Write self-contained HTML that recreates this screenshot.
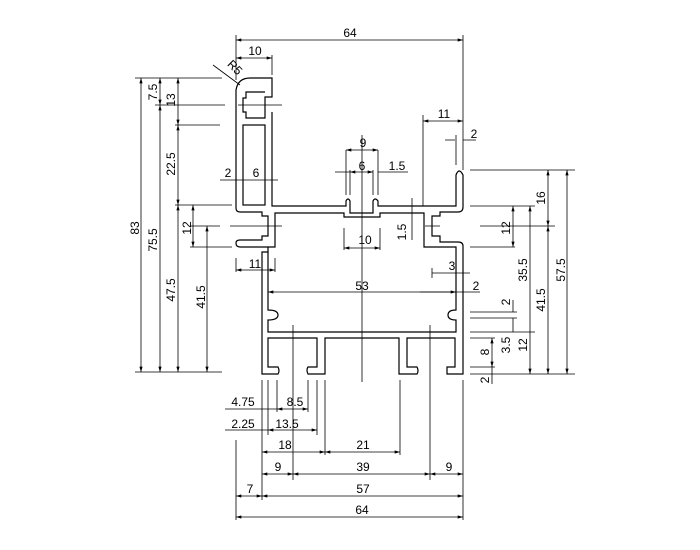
<!DOCTYPE html>
<html><head><meta charset="utf-8"><style>
html,body{margin:0;padding:0;background:#fff;width:700px;height:550px;overflow:hidden}
svg{display:block}
text{font-family:"Liberation Sans",Arial,sans-serif;font-size:12px;fill:#000}
</style></head><body>
<svg width="700" height="550" viewBox="0 0 700 550" xmlns="http://www.w3.org/2000/svg">
<defs>
<marker id="a" viewBox="0 0 10 6" refX="10" refY="3" markerWidth="8" markerHeight="4" orient="auto-start-reverse"><path d="M0,0 L10,3 L0,6z" fill="#000"/></marker>
</defs>
<g fill="none" stroke="#000" stroke-width="1.2">
<path d="M272,112 L272,206 L346,206 L346,201 Q348,197 350,201 L350,213 L373,213 L373,201 Q375,197 378,201 L378,206 L456,206 L456,175 Q459,167 463,175 L463,207 Q463,212 458,212 L440,212 L440,216 L432,216 L432,236 L440,236 L440,242 L458,242 Q463,242 463,246 L463,374 L447,374 L447,367 L455,367 L455,338 L407,338 L407,367 L417,367 Q419,371 417,374 L399,374 L399,338 L325,338 L325,374 L308,374 Q306,370 308,367 L317,367 L317,338 L268,338 L268,367 L278,367 Q280,371 278,374 L262,374 L262,252 L268,252 L268,247 L240,247 Q236,247 236,243 Q236,240 240,240 L262,240 L262,236 L268,236 L268,216 L262,216 L262,212 L240,212 Q236,212 236,208 L236,90 Q238,78 250,78 L272,78 L272,97 L265,97 L265,118 L246,118 L246,112 L243,112 L243,98 L246,98 L246,92 L265,92"/>
<rect x="243" y="125" width="22" height="80"/>
<path d="M268,252 L268,310 Q278,310 278,315 Q278,320 268,320 L268,332 L456,332 L456,320 Q448,320 448,315 Q448,310 456,310 L456,247 L424,247 L424,213 L380,213 L380,217 L344,217 L344,213 L275,213 L275,247 L268,247"/>
</g>
<g fill="none" stroke="#000" stroke-width="0.8">
<path d="M362,135 V382 M236,35 V80 M463,35 V170 M272,55 V75 M423,115 V206 M456,135 V165 M463,135 V165"/>
<path d="M135,78 H222 M155,105 H225 M238,105 H282 M175,125 H220 M175,205 H232 M190,226 H220 M230,226 H282 M190,247 H232 M135,372 H222"/>
<path d="M470,170 H575 M470,206 H535 M425,226 H440 M480,226 H555 M470,247 H515 M470,312 H517 M470,318 H517 M470,332 H535 M470,338 H495 M470,367 H495 M470,374 H575"/>
<path d="M236,440 V520 M262,380 V500 M268,380 V435 M277,380 V412 M293,325 V480 M308,380 V412 M317,380 V435 M325,380 V455 M400,380 V455 M430,325 V480 M463,380 V520"/>
<path d="M346,150 V195 M378,150 V195 M350,170 V195 M373,170 V195 M344,228 V250 M380,228 V250 M236,258 V272 M275,258 V272 M432,268 V278 M456,258 V310"/>
</g>
<g stroke="#000" stroke-width="0.8" marker-start="url(#a)" marker-end="url(#a)">
<line x1="236" y1="40" x2="463" y2="40"/>
<line x1="236" y1="58" x2="272" y2="58"/>
<line x1="141" y1="78" x2="141" y2="372"/>
<line x1="160" y1="78" x2="160" y2="105"/>
<line x1="160" y1="105" x2="160" y2="372"/>
<line x1="178" y1="78" x2="178" y2="125"/>
<line x1="178" y1="125" x2="178" y2="205"/>
<line x1="178" y1="205" x2="178" y2="372"/>
<line x1="193" y1="205" x2="193" y2="247"/>
<line x1="207" y1="226" x2="207" y2="372"/>
<line x1="567" y1="170" x2="567" y2="374"/>
<line x1="548" y1="170" x2="548" y2="226"/>
<line x1="548" y1="226" x2="548" y2="374"/>
<line x1="530" y1="206" x2="530" y2="374"/>
<line x1="513" y1="206" x2="513" y2="247"/>
<line x1="492" y1="338" x2="492" y2="367"/>
<line x1="346" y1="150" x2="378" y2="150"/>
<line x1="350" y1="172" x2="373" y2="172"/>
<line x1="344" y1="248" x2="380" y2="248"/>
<line x1="236" y1="270" x2="275" y2="270"/>
<line x1="423" y1="121" x2="463" y2="121"/>
<line x1="268" y1="292" x2="456" y2="292"/>
<line x1="262" y1="452" x2="325" y2="452"/>
<line x1="325" y1="452" x2="400" y2="452"/>
<line x1="262" y1="474" x2="293" y2="474"/>
<line x1="293" y1="474" x2="430" y2="474"/>
<line x1="430" y1="474" x2="463" y2="474"/>
<line x1="236" y1="496" x2="262" y2="496"/>
<line x1="262" y1="496" x2="463" y2="496"/>
<line x1="236" y1="517" x2="463" y2="517"/>
<line x1="277" y1="409" x2="308" y2="409"/>
<line x1="268" y1="430" x2="317" y2="430"/>
</g>
<g stroke="#000" stroke-width="0.8" fill="none">
<path d="M225,409 H277 M225,430 H268 M220,180 H278 M408,172 H378 M335,172 H350 M445,140 H455 M463,140 H476 M432,273 H470 M420,292 H480 M513,300 V312 M513,318 V332 M492,367 V384 M412,198 V240 M213,65 L240,85"/>
</g>
<g>
<text x="350" y="37" text-anchor="middle">64</text>
<text x="255" y="55" text-anchor="middle">10</text>
<text x="222" y="68" transform="rotate(45 228 72)">R5</text>
<text transform="translate(139,228) rotate(-90)" text-anchor="middle">83</text>
<text transform="translate(157,92) rotate(-90)" text-anchor="middle">7.5</text>
<text transform="translate(175,100) rotate(-90)" text-anchor="middle">13</text>
<text transform="translate(175,164) rotate(-90)" text-anchor="middle">22.5</text>
<text transform="translate(157,240) rotate(-90)" text-anchor="middle">75.5</text>
<text transform="translate(175,290) rotate(-90)" text-anchor="middle">47.5</text>
<text transform="translate(205,297) rotate(-90)" text-anchor="middle">41.5</text>
<text transform="translate(191,228) rotate(-90)" text-anchor="middle">12</text>
<text x="228" y="177" text-anchor="middle">2</text>
<text x="256" y="177" text-anchor="middle">6</text>
<text x="363" y="147" text-anchor="middle">9</text>
<text x="362" y="170" text-anchor="middle">6</text>
<text x="397" y="170" text-anchor="middle">1.5</text>
<text x="365" y="244" text-anchor="middle">10</text>
<text transform="translate(406,232) rotate(-90)" text-anchor="middle">1.5</text>
<text x="255" y="268" text-anchor="middle">11</text>
<text x="444" y="118" text-anchor="middle">11</text>
<text x="474" y="138" text-anchor="middle">2</text>
<text x="452" y="270" text-anchor="middle">3</text>
<text x="476" y="290" text-anchor="middle">2</text>
<text x="362" y="290" text-anchor="middle">53</text>
<text transform="translate(545,198) rotate(-90)" text-anchor="middle">16</text>
<text transform="translate(510,228) rotate(-90)" text-anchor="middle">12</text>
<text transform="translate(527,270) rotate(-90)" text-anchor="middle">35.5</text>
<text transform="translate(545,300) rotate(-90)" text-anchor="middle">41.5</text>
<text transform="translate(565,270) rotate(-90)" text-anchor="middle">57.5</text>
<text transform="translate(510,302) rotate(-90)" text-anchor="middle">2</text>
<text transform="translate(510,345) rotate(-90)" text-anchor="middle">3.5</text>
<text transform="translate(527,345) rotate(-90)" text-anchor="middle">12</text>
<text transform="translate(489,352) rotate(-90)" text-anchor="middle">8</text>
<text transform="translate(489,380) rotate(-90)" text-anchor="middle">2</text>
<text x="243" y="406" text-anchor="middle">4.75</text>
<text x="295" y="406" text-anchor="middle">8.5</text>
<text x="243" y="428" text-anchor="middle">2.25</text>
<text x="287" y="428" text-anchor="middle">13.5</text>
<text x="285" y="449" text-anchor="middle">18</text>
<text x="363" y="449" text-anchor="middle">21</text>
<text x="278" y="471" text-anchor="middle">9</text>
<text x="363" y="471" text-anchor="middle">39</text>
<text x="449" y="471" text-anchor="middle">9</text>
<text x="250" y="493" text-anchor="middle">7</text>
<text x="363" y="493" text-anchor="middle">57</text>
<text x="362" y="514" text-anchor="middle">64</text>
</g>
</svg>
</body></html>
